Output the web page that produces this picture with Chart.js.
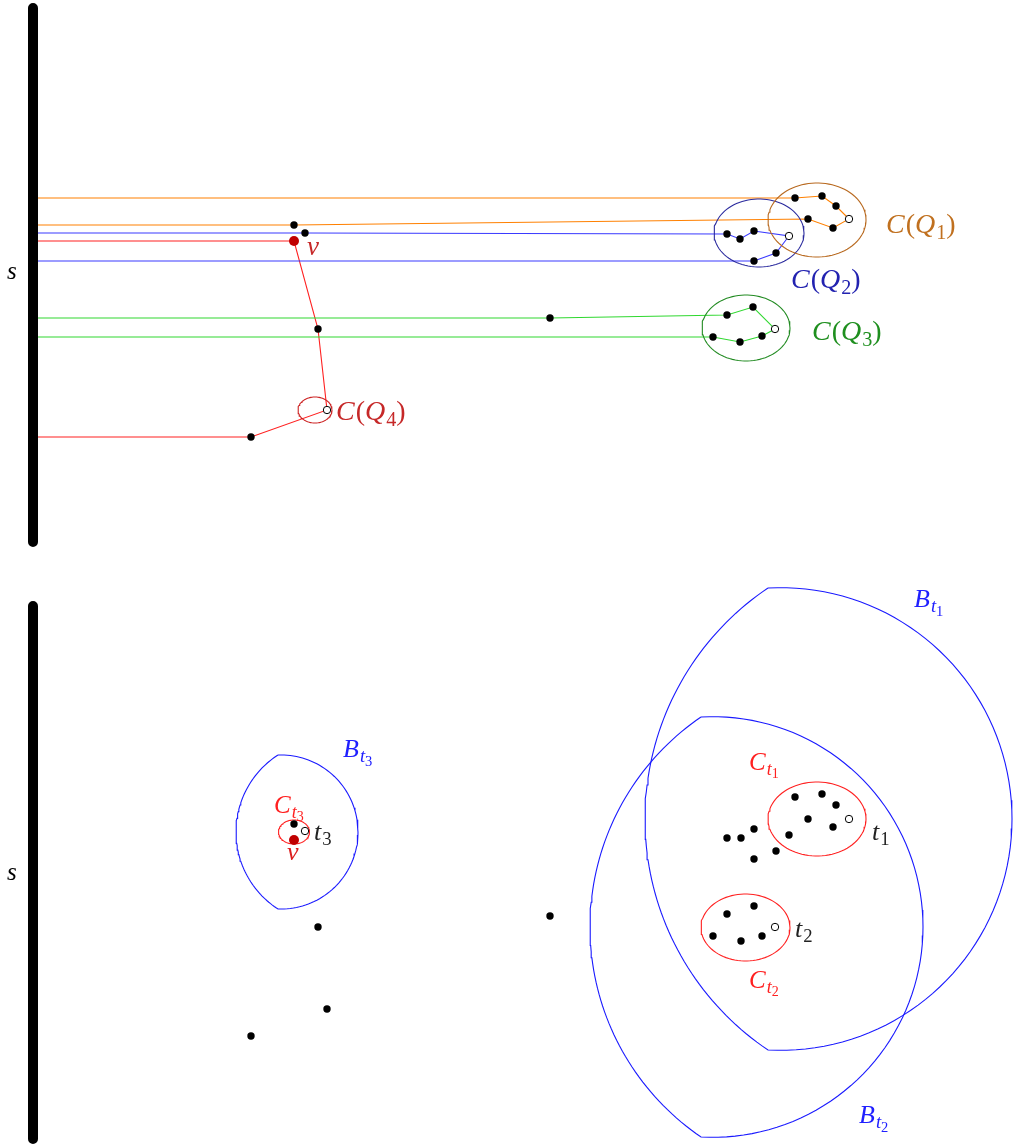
<!DOCTYPE html>
<html><head><meta charset="utf-8">
<script src="https://cdn.jsdelivr.net/npm/chart.js@4/dist/chart.umd.min.js"></script>
<style>html,body{margin:0;padding:0;background:#fff;}canvas{display:block;}</style>
</head><body>
<canvas id="c" width="1013" height="1148"></canvas>
<script>
// ---- data (coordinates in the diagram's own units) ----
const barTop = [[33,8],[33,542]];
const barBottom = [[33,606],[33,1139]];

const orangePath = [[38,225],[294,225],[808,219],[833,228],[849,219],[836,206],[822,196],[795,198],[38,198]];
const bluePath   = [[38,233],[305,233],[727,234],[740,239],[754,231],[789,236],[776,253],[754,261],[38,261]];
const greenPath  = [[38,318],[550,318],[727,315],[753,307],[775,329],[762,336],[740,342],[713,337],[38,337]];
const redPath    = [[38,241],[294,241],[318,329],[327,410],[251,437],[38,437]];

const blackPoints = [
  [294,225],[305,233],[318,329],[251,437],[550,318],
  [795,198],[822,196],[836,206],[833,228],[808,219],
  [727,234],[740,239],[754,231],[776,253],[754,261],
  [727,315],[753,307],[762,336],[740,342],[713,337],
  [294,824],[318,927],[550,916],[327,1009],[251,1036],
  [795,797],[822,794],[836,805],[833,827],[808,819],[789,835],
  [727,838],[741,838],[754,829],[754,859],[776,851],
  [727,914],[754,906],[762,936],[741,941],[713,936]
];
const openPoints = [[849,219],[789,236],[775,329],[327,410],[305,831],[849,819],[775,927]];
const redPoints = [[294,241],[294,840]];

// ellipses: cx, cy, rx, ry, colour
const ellipses = [
  [817,220,49,37,'#b8691f'],
  [759,233,45,34,'#2b2b9e'],
  [746,328,44,33,'#228b22'],
  [315,410,17,13,'#cc2222'],
  [817,819,49,37,'#ff2020'],
  [745.5,927.5,44.5,33.5,'#ff2020'],
  [294,832,15.5,12,'#ff2020']
];
// lens regions: vertex x, top y, bottom y, left extreme x, right extreme x
const lenses = [
  [768,588,1050,645,1012],
  [701,717,1137,590,923],
  [278,755,909,236,358]
];
// labels: text, x, baseline y, size, colour
const labels = [
  ['s',7,279,25,'#000'],
  ['s',7,880,25,'#000'],
  ['v',307,255,27,'#c62828'],
  ['C(Q_{1})',886,233,28,'#c0701f'],
  ['C(Q_{2})',791,288,28,'#2222b0'],
  ['C(Q_{3})',812,340,28,'#1f8f1f'],
  ['C(Q_{4})',336,420,28,'#c62828'],
  ['B_{t_{3}}',343,757,26,'#2020ff'],
  ['C_{t_{3}}',274,813,25,'#ff2020'],
  ['v',287,860,26,'#dd2020'],
  ['t_{3}',314,840,26,'#222'],
  ['B_{t_{1}}',914,607,26,'#2020ff'],
  ['C_{t_{1}}',749,770,25,'#ff2020'],
  ['t_{1}',872,840,26,'#222'],
  ['t_{2}',795,937,26,'#222'],
  ['C_{t_{2}}',749,988,25,'#ff2020'],
  ['B_{t_{2}}',859,1123,26,'#2020ff']
];

// ---- helpers ----
const toXY = a => a.map(p => ({x:p[0], y:p[1]}));
function ellipseOutline(e){
  const pts=[]; const n=90;
  for(let i=0;i<=n;i++){const a=2*Math.PI*i/n; pts.push({x:e[0]+e[2]*Math.cos(a), y:e[1]+e[3]*Math.sin(a)});}
  return pts;
}
function lensOutline(L){
  const [xv,yT,yB,xl,xr]=L; const h=(yB-yT)/2, cy=(yT+yB)/2;
  const cxR=(xr*xr-xv*xv-h*h)/(2*(xr-xv)), rR=xr-cxR;
  const cxL=(xv*xv+h*h-xl*xl)/(2*(xv-xl)), rL=cxL-xl;
  const pts=[]; const n=80;
  let a0=Math.atan2(-h,xv-cxR), a1=Math.atan2(h,xv-cxR);
  for(let i=0;i<=n;i++){const a=a0+(a1-a0)*i/n; pts.push({x:cxR+rR*Math.cos(a), y:cy+rR*Math.sin(a)});}
  let b0=Math.atan2(h,xv-cxL), b1=Math.atan2(-h,xv-cxL)+2*Math.PI;
  for(let i=1;i<=n;i++){const a=b0+(b1-b0)*i/n; pts.push({x:cxL+rL*Math.cos(a), y:cy+rL*Math.sin(a)});}
  return pts;
}
function lineDS(data,color,width,order){
  return {data, showLine:true, borderColor:color, borderWidth:width, pointRadius:0, pointHoverRadius:0, tension:0, fill:false, order:order, clip:false};
}

const datasets = [];
datasets.push(Object.assign(lineDS(toXY(barTop),'#000',10,5),{borderCapStyle:'round'}));
datasets.push(Object.assign(lineDS(toXY(barBottom),'#000',10,5),{borderCapStyle:'round'}));
datasets.push(lineDS(toXY(orangePath),'#ff8000',1.1,4));
datasets.push(lineDS(toXY(bluePath),'#3a3aff',1.1,4));
datasets.push(lineDS(toXY(greenPath),'#30d830',1.1,4));
datasets.push(lineDS(toXY(redPath),'#ff2020',1.1,4));
ellipses.forEach(e => datasets.push(lineDS(ellipseOutline(e),e[4],1.1,3)));
lenses.forEach(L => datasets.push(lineDS(lensOutline(L),'#1a1aff',1.1,3)));
datasets.push({data:toXY(blackPoints), showLine:false, pointRadius:3.7, pointBackgroundColor:'#000', pointBorderColor:'#000', pointBorderWidth:0, order:1, clip:false});
datasets.push({data:toXY(openPoints), showLine:false, pointRadius:3.7, pointBackgroundColor:'#fff', pointBorderColor:'#000', pointBorderWidth:1, order:0, clip:false});
datasets.push({data:toXY(redPoints), showLine:false, pointRadius:5, pointBackgroundColor:'#c00000', pointBorderColor:'#c00000', pointBorderWidth:0, order:0, clip:false});

function drawMath(ctx, str, x, y, size, color){
  let pos=x; ctx.fillStyle=color; ctx.textBaseline='alphabetic'; ctx.textAlign='left';
  const scale=[1,0.72,0.56], shift=[0,0.2,0.33];
  function run(i, level){
    while(i<str.length){
      const c=str[i];
      if(c==='}') return i+1;
      if(c==='_' && str[i+1]==='{'){ i=run(i+2, level+1); continue; }
      const sz=size*scale[level];
      ctx.font=(/[A-Za-z]/.test(c)?'italic ':'')+sz+'px "Liberation Serif"';
      ctx.fillText(c, pos, y+shift[level]*size);
      pos+=ctx.measureText(c).width+(level===0&&/[A-Za-z]/.test(c)?1:0);
      i++;
    }
    return i;
  }
  run(0,0);
}

const labelPlugin = {
  id:'mathLabels',
  afterDatasetsDraw(chart){
    const ctx=chart.ctx, sx=chart.scales.x, sy=chart.scales.y;
    ctx.save();
    labels.forEach(l => drawMath(ctx, l[0], sx.getPixelForValue(l[1]), sy.getPixelForValue(l[2]), l[3], l[4]));
    ctx.restore();
  }
};

new Chart(document.getElementById('c'), {
  type:'scatter',
  data:{datasets},
  options:{
    responsive:false, animation:false, events:[],
    layout:{padding:0, autoPadding:false},
    plugins:{legend:{display:false}, tooltip:{enabled:false}},
    scales:{
      x:{type:'linear', min:0, max:1013, display:false},
      y:{type:'linear', min:0, max:1148, reverse:true, display:false}
    }
  },
  plugins:[labelPlugin]
});
</script>
</body></html>
